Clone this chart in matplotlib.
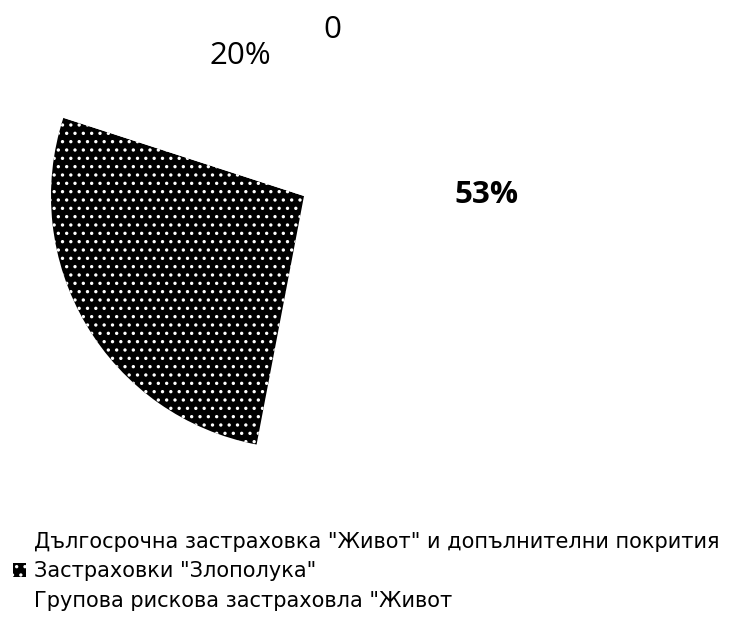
import matplotlib
matplotlib.use("Agg")
import matplotlib.pyplot as plt

plt.rcParams['font.family'] = ['Open Sans', 'DejaVu Sans']
plt.rcParams['hatch.linewidth'] = 1.2

categories = ['Дългосрочна застраховка "Живот" и допълнителни покрития',
              'Застраховки "Злополука"',
              'Групова рискова застраховла "Живот']
values = [53, 27, 20]
slice_colors = ['white', 'black', 'white']
label_texts = ['53%', '0', '20%']
label_pos = [(486, 432), (332, 597), (240, 571)]   # pixel positions (y up)
label_weight = ['bold', 'normal', 'normal']

fig = plt.figure(figsize=(7.3, 6.27), dpi=100)
ax = fig.add_axes([0, 0, 1, 1])

wedges, _ = ax.pie(values, colors=slice_colors, startangle=90, counterclock=False,
                   center=(304, 431), radius=253, frame=True,
                   wedgeprops=dict(linewidth=0))
ax.set_xlim(0, 730)
ax.set_ylim(0, 627)
ax.set_aspect('equal')
ax.axis('off')
for w, c in zip(wedges, slice_colors):
    if c == 'black':
        w.set_hatch('..')
        w.set_edgecolor('white')

for t, (x, y), fw in zip(label_texts, label_pos, label_weight):
    ax.text(x, y, t, ha='center', va='center', fontsize=22.5, fontweight=fw)

fig.legend(wedges, categories, loc='upper left', bbox_to_anchor=(13 / 730, 1 - 532 / 627),
           frameon=False, prop={'family': ['DejaVu Sans'], 'size': 15},
           handlelength=0.6, handleheight=0.6,
           handletextpad=0.4, labelspacing=0.45, borderaxespad=0, borderpad=0)

fig.savefig('out.png', dpi=100)
